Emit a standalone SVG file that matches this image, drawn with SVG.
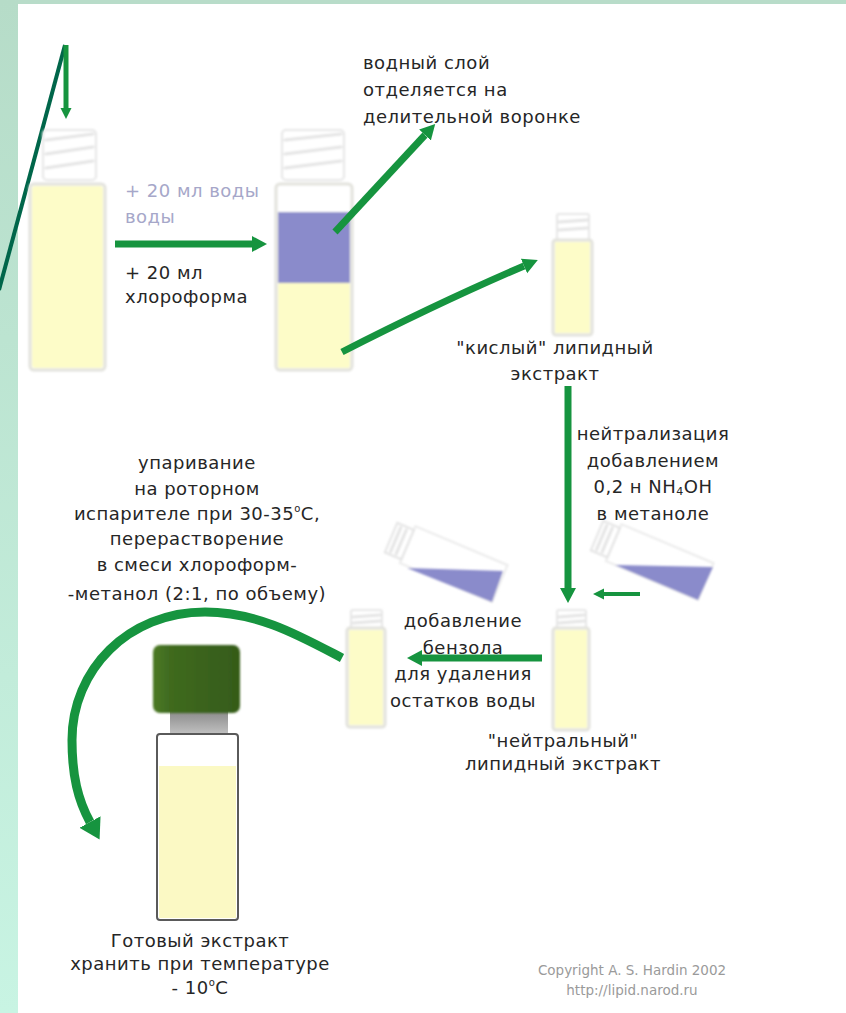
<svg xmlns="http://www.w3.org/2000/svg" width="846" height="1013" viewBox="0 0 846 1013">
  <defs>
    <linearGradient id="sideBand" x1="0" y1="0" x2="0" y2="1">
      <stop offset="0" stop-color="#b6dcc8"/>
      <stop offset="1" stop-color="#c8f4e3"/>
    </linearGradient>
    <linearGradient id="capGreen" x1="0" y1="0" x2="1" y2="0">
      <stop offset="0" stop-color="#4c7a25"/>
      <stop offset="0.2" stop-color="#3f6a1f"/>
      <stop offset="1" stop-color="#355b19"/>
    </linearGradient>
    <linearGradient id="neckGrey" x1="0" y1="0" x2="0" y2="1">
      <stop offset="0" stop-color="#8a8a8a"/>
      <stop offset="1" stop-color="#c8c8c8"/>
    </linearGradient>
    <filter id="soft" x="-10%" y="-10%" width="120%" height="120%">
      <feGaussianBlur stdDeviation="0.8"/>
    </filter>
    <marker id="head" markerUnits="userSpaceOnUse" markerWidth="16" markerHeight="18" refX="0" refY="9" orient="auto">
      <path d="M0,1 L15,9 L0,17 z" fill="#16943f"/>
    </marker>
    <marker id="headSmall" markerUnits="userSpaceOnUse" markerWidth="12" markerHeight="12" refX="0" refY="6" orient="auto">
      <path d="M0,0.5 L11,6 L0,11.5 z" fill="#16943f"/>
    </marker>
    <marker id="headBig" markerUnits="userSpaceOnUse" markerWidth="22" markerHeight="26" refX="0" refY="13" orient="auto">
      <path d="M0,1 L20,13 L0,25 z" fill="#16943f"/>
    </marker>
  </defs>
  <style>
    .t { font-family: "DejaVu Sans", Verdana, sans-serif; font-size: 18px; letter-spacing: 0.5px; fill: #262626; }
    .tc { text-anchor: middle; }
    .tp { fill: #a6a7c9; }
    .copy { font-family: "DejaVu Sans", Verdana, sans-serif; font-size: 13.5px; fill: #9a9a9a; text-anchor: middle; }
    .arrow { fill: none; stroke: #16943f; stroke-linecap: butt; }
    .glass { fill: #ffffff; stroke: #e2e2dc; stroke-width: 3; }
    .yellow { fill: #fdfcc8; }
    .purple { fill: #8a8bcb; }
    .thread { fill: none; stroke: #e4e4e4; stroke-width: 3; stroke-linecap: round; }
    .capglass { fill: #ffffff; stroke: #e6e6e6; stroke-width: 2; }
  </style>

  <!-- page frame -->
  <rect x="0" y="0" width="846" height="1013" fill="#ffffff"/>
  <rect x="0" y="0" width="846" height="4" fill="#b8dcc9"/>
  <rect x="0" y="0" width="18" height="1013" fill="url(#sideBand)"/>
  <line x1="65" y1="45" x2="-1" y2="290" stroke="#00664a" stroke-width="4"/>

  <!-- vial 1: initial extract -->
  <g id="vial-start" filter="url(#soft)">
    <rect class="capglass" x="43" y="130" width="53" height="50" rx="4"/>
    <path class="thread" d="M46,140 L93,134 M46,154 L93,147 M46,168 L93,161"/>
    <rect class="glass" x="30" y="184" width="75" height="186" rx="4"/>
    <rect class="yellow" x="32" y="186" width="71" height="182" rx="3"/>
  </g>

  <!-- vial 2: two layers -->
  <g id="vial-layers" filter="url(#soft)">
    <rect class="capglass" x="282" y="130" width="62" height="50" rx="4"/>
    <path class="thread" d="M285,140 L341,134 M285,154 L341,147 M285,168 L341,161"/>
    <rect class="glass" x="276" y="184" width="76" height="186" rx="4"/>
    <rect class="purple" x="278" y="212" width="72" height="71"/>
    <rect class="yellow" x="278" y="283" width="72" height="85" rx="2"/>
  </g>

  <!-- vial 3: acidic lipid extract -->
  <g id="vial-acidic" filter="url(#soft)">
    <rect class="capglass" x="557" y="214" width="32" height="26" rx="2"/>
    <path class="thread" d="M559,222 L587,220 M559,230 L587,228"/>
    <rect class="glass" x="553" y="240" width="39" height="95" rx="3"/>
    <rect class="yellow" x="555" y="242" width="35" height="91"/>
  </g>

  <!-- vial 4: neutral lipid extract -->
  <g id="vial-neutral" filter="url(#soft)">
    <rect class="capglass" x="557" y="610" width="29" height="18" rx="2"/>
    <path class="thread" d="M559,617 L584,615 M559,623 L584,621"/>
    <rect class="glass" x="553" y="628" width="36" height="102" rx="3"/>
    <rect class="yellow" x="555" y="630" width="32" height="98"/>
  </g>

  <!-- vial 5: after benzene -->
  <g id="vial-benzene" filter="url(#soft)">
    <rect class="capglass" x="351" y="610" width="31" height="18" rx="2"/>
    <path class="thread" d="M353,617 L380,615 M353,623 L380,621"/>
    <rect class="glass" x="347" y="628" width="38" height="99" rx="3"/>
    <rect class="yellow" x="349" y="630" width="34" height="95"/>
  </g>

  <!-- tilted vial pouring NH4OH -->
  <g id="pour-nh4oh" filter="url(#soft)">
    <g transform="translate(698,600) rotate(22.9)">
      <rect x="-100" y="-40" width="100" height="40" fill="none" stroke="#ebebeb" stroke-width="2"/>
      <rect x="-118" y="-36" width="18" height="32" fill="none" stroke="#e4e4e4" stroke-width="2"/>
      <path class="thread" d="M-113,-33 L-113,-7 M-107,-33 L-107,-7"/>
    </g>
    <polygon class="purple" points="615,565 713,567 698,600"/>
  </g>

  <!-- tilted vial pouring benzene -->
  <g id="pour-benzene" filter="url(#soft)">
    <g transform="translate(492,602) rotate(22.9)">
      <rect x="-100" y="-40" width="100" height="40" fill="none" stroke="#ebebeb" stroke-width="2"/>
      <rect x="-118" y="-36" width="18" height="32" fill="none" stroke="#e4e4e4" stroke-width="2"/>
      <path class="thread" d="M-113,-33 L-113,-7 M-107,-33 L-107,-7"/>
    </g>
    <polygon class="purple" points="407,568 503,571 492,602"/>
  </g>

  <!-- final storage vial -->
  <g id="vial-final">
    <rect x="170" y="711" width="58" height="26" fill="url(#neckGrey)"/>
    <rect x="157" y="734" width="81" height="186" rx="3" fill="#ffffff" stroke="#5a5a5a" stroke-width="2"/>
    <rect x="159" y="766" width="77" height="152" fill="#fbf9c4"/>
    <rect x="153" y="645" width="87" height="68" rx="7" fill="url(#capGreen)" filter="url(#soft)"/>
  </g>

  <!-- connectors -->
  <g id="connectors">
    <line class="arrow" x1="66" y1="45" x2="66" y2="108" stroke-width="5" marker-end="url(#headSmall)"/>
    <line class="arrow" x1="115" y1="244" x2="252" y2="244" stroke-width="7" marker-end="url(#head)"/>
    <line class="arrow" x1="335" y1="232" x2="425" y2="135" stroke-width="7" marker-end="url(#head)"/>
    <path class="arrow" d="M342,352 Q440,302 524,266" stroke-width="7" marker-end="url(#head)"/>
    <line class="arrow" x1="568" y1="386" x2="568" y2="588" stroke-width="7" marker-end="url(#head)"/>
    <line class="arrow" x1="640" y1="594" x2="604" y2="594" stroke-width="4" marker-end="url(#headSmall)"/>
    <line class="arrow" x1="542" y1="658" x2="422" y2="658" stroke-width="7" marker-end="url(#head)"/>
    <path class="arrow" d="M342,658 C300,636 258,612 205,612 C128,612 72,670 72,740 C72,776 78,800 90,822" stroke-width="9" marker-end="url(#headBig)"/>
  </g>

  <!-- labels -->
  <g id="label-water" class="t tp">
    <text x="125" y="197">+ 20 мл воды</text>
    <text x="125" y="223">воды</text>
  </g>
  <g id="label-chloroform" class="t">
    <text x="125" y="279">+ 20 мл</text>
    <text x="125" y="303">хлороформа</text>
  </g>
  <g id="label-aqueous" class="t">
    <text x="363" y="69">водный слой</text>
    <text x="363" y="96">отделяется на</text>
    <text x="363" y="123">делительной воронке</text>
  </g>
  <g id="label-acidic" class="t tc">
    <text x="555" y="354">"кислый" липидный</text>
    <text x="555" y="380">экстракт</text>
  </g>
  <g id="label-neutralize" class="t tc">
    <text x="653" y="440">нейтрализация</text>
    <text x="653" y="467">добавлением</text>
    <text x="653" y="493">0,2 н NH<tspan font-size="11" dy="2">4</tspan><tspan dy="-2">OH</tspan></text>
    <text x="653" y="520">в метаноле</text>
  </g>
  <g id="label-benzene" class="t tc">
    <text x="463" y="627">добавление</text>
    <text x="463" y="654">бензола</text>
    <text x="463" y="680">для удаления</text>
    <text x="463" y="707">остатков воды</text>
  </g>
  <g id="label-neutral" class="t tc">
    <text x="563" y="747">"нейтральный"</text>
    <text x="563" y="770">липидный экстракт</text>
  </g>
  <g id="label-evaporation" class="t tc">
    <text x="197" y="469">упаривание</text>
    <text x="197" y="495">на роторном</text>
    <text x="197" y="520">испарителе при 30-35<tspan font-size="10" dy="-8">o</tspan><tspan dy="8">C,</tspan></text>
    <text x="197" y="545">перерастворение</text>
    <text x="197" y="571">в смеси хлороформ-</text>
    <text x="197" y="600">-метанол (2:1, по объему)</text>
  </g>
  <g id="label-final" class="t tc">
    <text x="200" y="947">Готовый экстракт</text>
    <text x="200" y="970">хранить при температуре</text>
    <text x="200" y="994">- 10<tspan font-size="10" dy="-8">o</tspan><tspan dy="8">C</tspan></text>
  </g>
  <g id="label-copyright" class="copy">
    <text x="632" y="975">Copyright A. S. Hardin 2002</text>
    <text x="632" y="995">http://lipid.narod.ru</text>
  </g>
</svg>
